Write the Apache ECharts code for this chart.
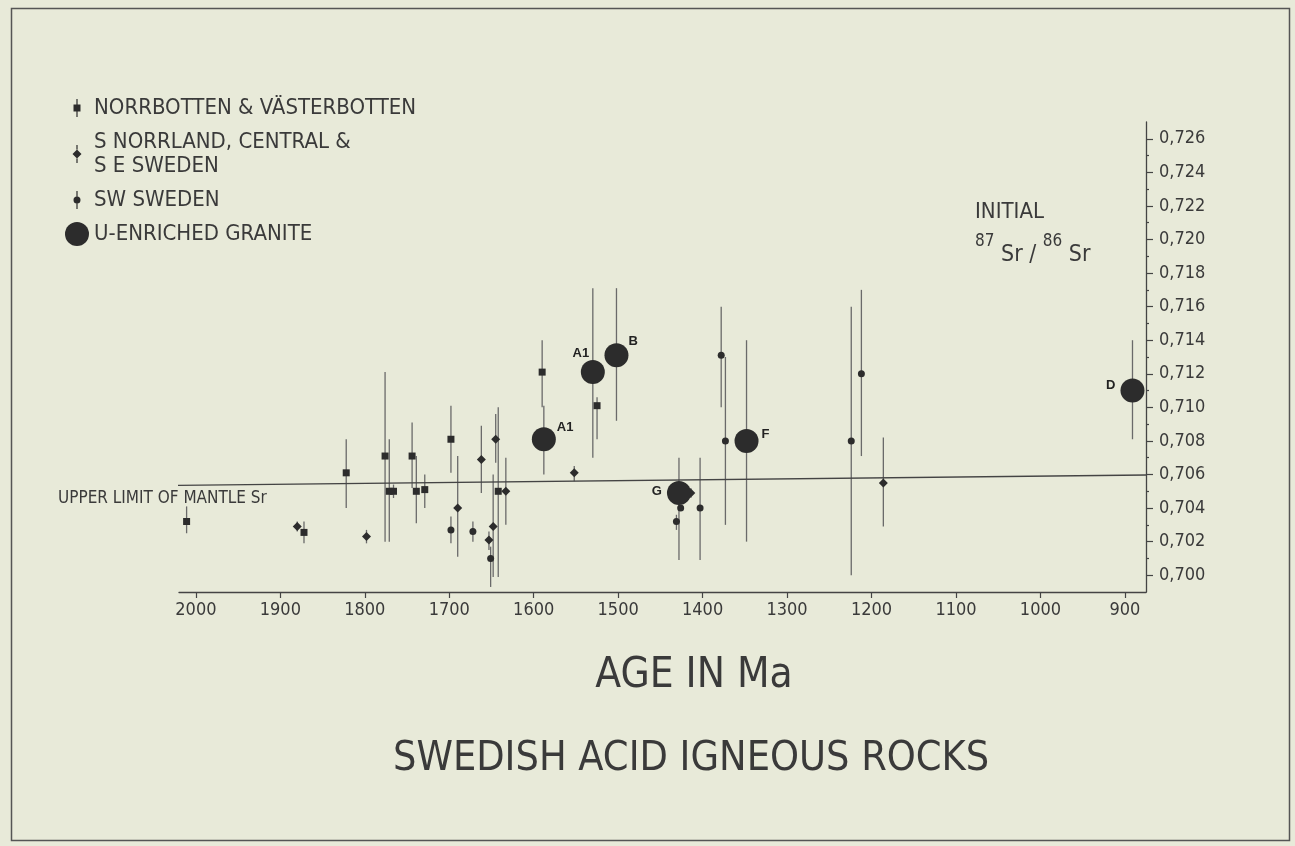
<!DOCTYPE html>
<html>
<head>
<meta charset="utf-8">
<script src="https://cdn.jsdelivr.net/npm/echarts@6/dist/echarts.min.js"></script>
<style>
html,body{margin:0;padding:0;background:#e8ead9}
#main{width:1295px;height:846px}
</style>
</head>
<body>
<div id="main"></div>
<script>
// Norrbotten & Vasterbotten (squares)
var nbAge = [2011, 1872, 1822, 1776, 1771, 1766, 1744, 1739, 1729, 1698, 1642, 1590, 1525];
var nbSr  = [0.7032, 0.70255, 0.7061, 0.7071, 0.7050, 0.7050, 0.7071, 0.7050, 0.7051, 0.7081, 0.7050, 0.7121, 0.7101];
var nbHi  = [0.7041, 0.7032, 0.7081, 0.7121, 0.7081, 0.7054, 0.7091, 0.7071, 0.7060, 0.7101, 0.7100, 0.7140, 0.7106];
var nbLo  = [0.7025, 0.7019, 0.7040, 0.7020, 0.7020, 0.7046, 0.7052, 0.7031, 0.7040, 0.7061, 0.6999, 0.7100, 0.7081];

// S Norrland, central & SE Sweden (diamonds)
var snAge = [1880, 1798, 1690, 1662, 1645, 1633, 1648, 1653, 1552, 1414, 1186];
var snSr  = [0.7029, 0.7023, 0.7040, 0.7069, 0.7081, 0.7050, 0.7029, 0.7021, 0.7061, 0.7049, 0.7055];
var snHi  = [0.7032, 0.7027, 0.7071, 0.7089, 0.7096, 0.7070, 0.7060, 0.7026, 0.7065, 0.7052, 0.7082];
var snLo  = [0.7026, 0.7019, 0.7011, 0.7049, 0.7067, 0.7030, 0.6999, 0.7015, 0.7056, 0.7046, 0.7029];

// SW Sweden (small circles)
var swAge = [1698, 1672, 1651, 1426, 1431, 1403, 1378, 1373, 1224, 1212];
var swSr  = [0.7027, 0.7026, 0.7010, 0.7040, 0.7032, 0.7040, 0.7131, 0.7080, 0.7080, 0.7120];
var swHi  = [0.7035, 0.7032, 0.7017, null, 0.7036, 0.7070, 0.7160, 0.7130, 0.7160, 0.7170];
var swLo  = [0.7019, 0.7020, 0.6993, null, 0.7027, 0.7009, 0.7100, 0.7030, 0.7000, 0.7071];

// U-enriched granite (big circles)
var grAge  = [1588, 1530, 1502, 1428, 1348, 891];
var grSr   = [0.7081, 0.7121, 0.7131, 0.7049, 0.7080, 0.7110];
var grHi   = [0.7101, 0.7171, 0.7171, 0.7070, 0.7140, 0.7140];
var grLo   = [0.7060, 0.7070, 0.7092, 0.7009, 0.7020, 0.7081];
var grName = ['A1', 'A1', 'B', 'G', 'F', 'D'];

// upper limit of mantle Sr
var mantleAge = [2163, 875];
var mantleSr  = [0.70527, 0.70597];

var xTicks = [2000, 1900, 1800, 1700, 1600, 1500, 1400, 1300, 1200, 1100, 1000, 900];
var yTicks = [0.700, 0.702, 0.704, 0.706, 0.708, 0.710, 0.712, 0.714, 0.716, 0.718, 0.720, 0.722, 0.724, 0.726];
var yMinor = [0.701, 0.703, 0.705, 0.707, 0.709, 0.711, 0.713, 0.715, 0.717, 0.719, 0.721, 0.723, 0.725];

var N1 = 'NORRBOTTEN & VÄSTERBOTTEN';
var N2 = 'S NORRLAND, CENTRAL &\nS E SWEDEN';
var N3 = 'SW SWEDEN';
var N4 = 'U-ENRICHED GRANITE';

var FONT = '"DejaVu Sans Condensed", "DejaVu Sans", sans-serif';
var INK = '#3a3a3a';
var MARK = '#2c2c2c';

function pts(a, s) {
    var out = [];
    for (var i = 0; i < a.length; i++) out.push([a[i], s[i]]);
    return out;
}

function errBars(name, a, lo, hi) {
    var d = [];
    for (var i = 0; i < a.length; i++) {
        if (lo[i] != null) d.push([a[i], lo[i], hi[i]]);
    }
    return {
        type: 'custom', name: name, z: 1, silent: true,
        encode: {x: 0, y: [1, 2]},
        data: d,
        renderItem: function (params, api) {
            var p1 = api.coord([api.value(0), api.value(1)]);
            var p2 = api.coord([api.value(0), api.value(2)]);
            return {
                type: 'line',
                shape: {x1: p1[0], y1: p1[1], x2: p2[0], y2: p2[1]},
                style: {stroke: '#6a6a6a', lineWidth: 1.3}
            };
        }
    };
}

var grPlace = [
    {position: 'right', offset: [-4, -12]},
    {position: 'top', offset: [-12, 5]},
    {position: 'right', offset: [-5, -14]},
    {position: 'left', offset: [0, -2]},
    {position: 'right', offset: [-2, -7]},
    {position: 'left', offset: [0, -5]}
];
var grData = grAge.map(function (a, i) {
    return {value: [a, grSr[i]], name: grName[i], label: grPlace[i]};
});

var pad = 'M0 0h0.01v0.01h-0.01z M23.99 23.99h0.01v0.01h-0.01z ';
var iconSquare  = 'path://' + pad + 'M11.4 3h1.2v5.5h-1.2z M11.4 15.5h1.2v5.5h-1.2z M8.5 8.5h7v7h-7z';
var iconDiamond = 'path://' + pad + 'M11.4 3h1.2v4.5h-1.2z M11.4 16.5h1.2v4.5h-1.2z M12 7.5L16.5 12L12 16.5L7.5 12z';
var iconCircle  = 'path://' + pad + 'M11.4 3h1.2v5.6h-1.2z M11.4 15.4h1.2v5.6h-1.2z M8.5 12a3.5 3.5 0 1 0 7 0a3.5 3.5 0 1 0 -7 0z';

var myChart = echarts.init(document.getElementById('main'));

var option = {
    backgroundColor: '#e8ead9',
    animation: false,
    textStyle: {fontFamily: FONT, color: INK},
    title: {
        text: 'SWEDISH ACID IGNEOUS ROCKS',
        left: 393, top: 739, padding: 0,
        textStyle: {fontFamily: FONT, fontSize: 41, fontWeight: 'normal', color: INK}
    },
    legend: {
        orient: 'vertical', left: 60, top: 91,
        itemWidth: 24, itemHeight: 24, itemGap: 10,
        textStyle: {fontFamily: FONT, fontSize: 22, color: INK, lineHeight: 24},
        data: [
            {name: N1, icon: iconSquare, itemStyle: {color: MARK, opacity: 1}},
            {name: N2, icon: iconDiamond, itemStyle: {color: MARK, opacity: 1}},
            {name: N3, icon: iconCircle, itemStyle: {color: MARK, opacity: 1}},
            {name: N4, icon: 'circle', itemStyle: {color: MARK, opacity: 1}}
        ]
    },
    grid: {left: 179, right: 149, top: 122, bottom: 254, containLabel: false, outerBoundsMode: 'none'},
    xAxis: {
        type: 'value', inverse: true, min: 875, max: 2020,
        splitLine: {show: false},
        axisLine: {lineStyle: {color: '#444', width: 1.3}},
        axisTick: {customValues: xTicks, length: 6, lineStyle: {color: '#444', width: 1.2}},
        axisLabel: {
            customValues: xTicks, fontFamily: FONT, fontSize: 18, color: INK, margin: 9,
            formatter: function (v) { return String(v); }
        },
        name: 'AGE IN Ma', nameLocation: 'middle', nameGap: 63,
        nameTextStyle: {fontFamily: FONT, fontSize: 42, color: INK, padding: [0, 0, 0, 63]}
    },
    yAxis: [{
        type: 'value', position: 'right', min: 0.699, max: 0.727,
        splitLine: {show: false},
        axisLine: {show: true, lineStyle: {color: '#444', width: 1.3}},
        axisTick: {show: true, customValues: yTicks, length: 7, lineStyle: {color: '#444', width: 1.2}},
        axisLabel: {
            customValues: yTicks, fontFamily: FONT, fontSize: 18, color: INK, margin: 13,
            formatter: function (v) { return v.toFixed(3).replace('.', ','); }
        }
    }, {
        type: 'value', position: 'right', min: 0.699, max: 0.727,
        splitLine: {show: false},
        axisLine: {show: false},
        axisTick: {show: true, customValues: yMinor, length: 3, lineStyle: {color: '#444', width: 1.2}},
        axisLabel: {show: false}
    }],
    graphic: [
        {type: 'rect', left: 9, top: 6, z: -1, silent: true,
         shape: {width: 1278, height: 832},
         style: {fill: null, stroke: '#555', lineWidth: 1.5}},
        {type: 'text', left: 58, top: 490, silent: true,
         style: {text: 'UPPER LIMIT OF MANTLE Sr', font: '17px ' + FONT, fill: INK}},
        {type: 'text', left: 975, top: 201, silent: true,
         style: {text: 'INITIAL', font: '22px ' + FONT, fill: INK}},
        {type: 'text', left: 975, top: 233, silent: true,
         style: {
             text: '{s|87}{b| Sr / }{s|86}{b| Sr}',
             rich: {
                 s: {fontFamily: FONT, fontSize: 17, fill: INK, verticalAlign: 'top', lineHeight: 34},
                 b: {fontFamily: FONT, fontSize: 23, fill: INK, verticalAlign: 'bottom', lineHeight: 34}
             }
         }}
    ],
    series: [
        {
            type: 'line', name: 'mantle', data: pts(mantleAge, mantleSr),
            showSymbol: false, clip: false, silent: true, z: 1,
            lineStyle: {color: '#444', width: 1.3}
        },
        {type: 'scatter', name: N1, symbol: 'rect', symbolSize: 7, z: 3,
         itemStyle: {color: MARK, opacity: 1}, data: pts(nbAge, nbSr)},
        {type: 'scatter', name: N2, symbol: 'diamond', symbolSize: 9, z: 3,
         itemStyle: {color: MARK, opacity: 1}, data: pts(snAge, snSr)},
        {type: 'scatter', name: N3, symbol: 'circle', symbolSize: 7, z: 3,
         itemStyle: {color: MARK, opacity: 1}, data: pts(swAge, swSr)},
        {type: 'scatter', name: N4, symbol: 'circle', symbolSize: 24, z: 4,
         itemStyle: {color: MARK, opacity: 1}, data: grData,
         label: {show: true, formatter: '{b}', fontFamily: 'Liberation Sans', fontWeight: 'bold',
                 fontSize: 13, color: '#222'}},
        errBars(N1, nbAge, nbLo, nbHi),
        errBars(N2, snAge, snLo, snHi),
        errBars(N3, swAge, swLo, swHi),
        errBars(N4, grAge, grLo, grHi)
    ]
};

myChart.setOption(option);
</script>
</body>
</html>
